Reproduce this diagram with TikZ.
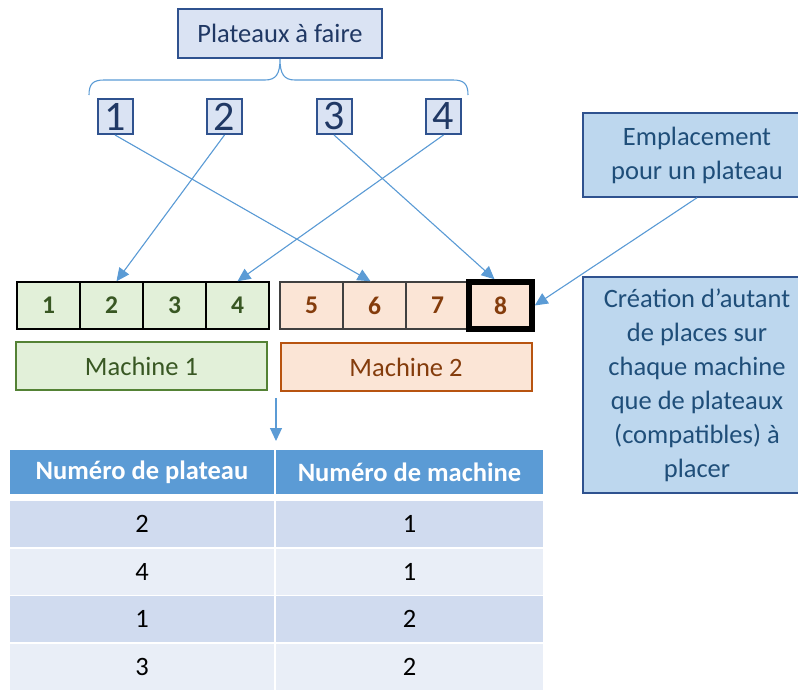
\documentclass[tikz,border=0pt]{standalone}
\usepackage{fontspec}
\setmainfont{Carlito}
\usetikzlibrary{arrows.meta}

\definecolor{navy}{HTML}{203864}
\definecolor{boxblue}{HTML}{2F528F}
\definecolor{paleblue}{HTML}{DAE3F3}
\definecolor{noteblue}{HTML}{BDD7EE}
\definecolor{notetext}{HTML}{1F4E79}
\definecolor{linkblue}{HTML}{5B9BD5}
\definecolor{palegreen}{HTML}{E2F0D9}
\definecolor{darkgreen}{HTML}{385723}
\definecolor{midgreen}{HTML}{548235}
\definecolor{paleorange}{HTML}{FBE5D6}
\definecolor{darkorange}{HTML}{843C0C}
\definecolor{midorange}{HTML}{C55A11}
\definecolor{rowdark}{HTML}{D0DBEF}
\definecolor{rowlight}{HTML}{E9EEF7}

\tikzset{
  txt/.style={font={\fontsize{26.5}{34}\selectfont}},
  platbox/.style={txt, draw=boxblue, fill=paleblue, line width=2pt, text=navy,
    minimum width=204, minimum height=49, inner sep=0pt},
  numbox/.style={draw=boxblue, fill=paleblue, line width=2pt, text=navy,
    font={\fontsize{42}{42}\selectfont}, minimum width=35, minimum height=35, inner sep=0pt},
  greencell/.style={draw=black, fill=palegreen, line width=1.5pt, text=darkgreen,
    font={\fontsize{25.5}{25.5}\selectfont\bfseries}, minimum width=63, minimum height=47, inner sep=0pt},
  orangecell/.style={greencell, draw=black!75, fill=paleorange, text=darkorange},
  machbox/.style={txt, line width=2pt, minimum width=251, minimum height=48, inner sep=0pt},
  notebox/.style={txt, draw=boxblue, fill=noteblue, line width=1.5pt, text=notetext,
    align=center, minimum width=228, inner sep=0pt},
  headcell/.style={txt, fill=linkblue, text=white, font={\fontsize{26.5}{34}\selectfont\bfseries},
    minimum height=44, inner sep=0pt},
  bodycell/.style={txt, text=black, minimum height=46, inner sep=0pt},
  link/.style={->, draw=linkblue, fill=linkblue, line width=1.1pt},
}

\begin{document}
\begin{tikzpicture}[x=1pt, y=-1pt, >={Triangle[length=13pt,width=12pt]}]
  % --- FRAME ---
  \useasboundingbox (0,0) rectangle (798,691);
  \clip (0,0) rectangle (798,691);

  % --- PLATEAUX A FAIRE ---
  \node[platbox] (plat) at (280,33.5) {Plateaux à faire};
  \draw[draw=linkblue, line width=1.1pt] (89,95) .. controls (89,84) and (93,80) .. (104,80)
    -- (265,80) .. controls (276,80) and (280,74) .. (plat.south)
    .. controls (280,74) and (284,80) .. (295,80) -- (453,80)
    .. controls (464,80) and (468,84) .. (468,95);
  \node[numbox] (n1) at (115,116.5) {1};
  \node[numbox] (n2) at (224.5,116.5) {2};
  \node[numbox] (n3) at (334,116.5) {3};
  \node[numbox] (n4) at (443.5,116.5) {4};

  % --- PLACES SUR LES MACHINES ---
  \foreach \i in {1,...,4}
    \node[greencell] (c\i) at ({17+63*(\i-0.5)},305.5) {\i};
  \foreach \i in {5,...,7}
    \node[orangecell] (c\i) at ({280+63*(\i-4.5)},305.5) {\i};
  \node[orangecell, draw=black, line width=5.5pt] (c8) at (500.5,305.5) {8};

  \node[machbox, draw=midgreen, fill=palegreen, text=darkgreen] (m1) at (141.5,366) {Machine 1};
  \node[machbox, draw=midorange!80!darkorange, fill=paleorange, text=darkorange] (m2) at (406,367) {Machine 2};

  % --- AFFECTATIONS ---
  \draw[link] (n1.south) -- ([xshift=-4]c6.north);
  \draw[link] (n2.south) -- ([xshift=5]c2.north);
  \draw[link] (n3.south) -- ([xshift=-6]c8.north);
  \draw[link] (n4.south) -- (c4.north);

  % --- NOTES ---
  \node[notebox, minimum height=84] (empl) at (697,155) {Emplacement\\pour un plateau};
  \node[notebox, minimum height=216] (crea) at (697,385)
    {Création d’autant\\de places sur\\chaque machine\\que de plateaux\\(compatibles) à\\placer};
  \draw[link] (empl.south) -- (c8.east);

  % --- TABLEAU RESULTAT ---
  \coordinate (split) at (276,398);
  \coordinate (tabtop) at (276,441);
  \draw[link] (split) -- (tabtop);
  \node[headcell, minimum width=264] (h1) at (142,472) {Numéro de plateau};
  \node[headcell, minimum width=267] (h2) at (409.5,472) {Numéro de machine};
  \foreach \r/\p/\m [count=\k] in {1/2/1, 2/4/1, 3/1/2, 4/3/2} {
    \ifodd\k \def\rowfill{rowdark}\else \def\rowfill{rowlight}\fi
    \node[bodycell, fill=\rowfill, minimum width=264] (p\r) at (142,{524+47.5*(\r-1)}) {\p};
    \node[bodycell, fill=\rowfill, minimum width=267] (q\r) at (409.5,{524+47.5*(\r-1)}) {\m};
  }
\end{tikzpicture}
\end{document}
